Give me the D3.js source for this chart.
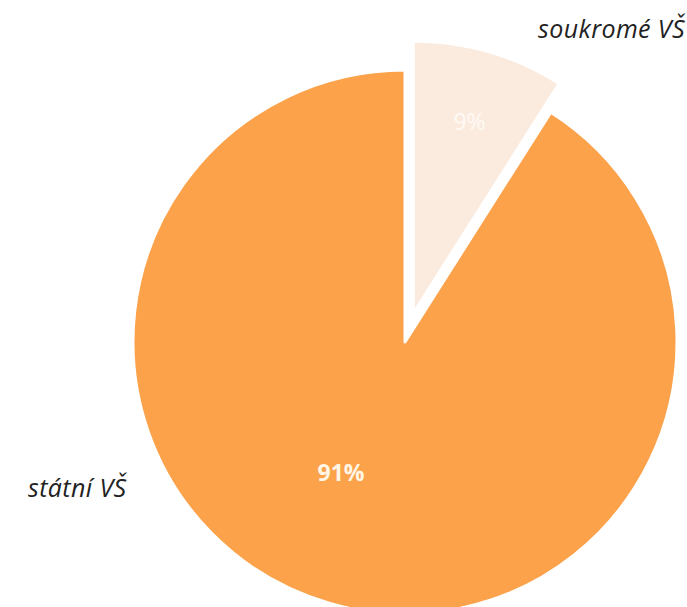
<!DOCTYPE html>
<html>
<head>
<meta charset="utf-8">
<script src="https://cdn.jsdelivr.net/npm/d3@7"></script>
<style>
  html, body { margin: 0; padding: 0; background: #ffffff; }
  svg { display: block; }
</style>
</head>
<body>
<svg id="chart" width="687" height="607"></svg>
<script>
// ---- data ----
const categories = ["soukromé VŠ", "státní VŠ"];
const values = [9, 91];
const valueLabels = ["9%", "91%"];

// ---- layout ----
const W = 687, H = 607;
const cx = 405, cy = 342, R = 272, explode = 30;
const colors = d3.scaleOrdinal().domain(categories).range(["#FBEBDF", "#FBA24B"]);

const svg = d3.select("#chart");
const g = svg.append("g").attr("transform", `translate(${cx},${cy})`);

const pie = d3.pie().sort(null).value(d => d.v);
const data = categories.map((c, i) => ({ c, v: values[i], lab: valueLabels[i], i }));
const arcs = pie(data);
const arc = d3.arc().innerRadius(0).outerRadius(R);

function offset(d) {
  if (d.data.i !== 0) return [0, 0];
  const a = (d.startAngle + d.endAngle) / 2;
  return [Math.sin(a) * explode, -Math.cos(a) * explode];
}

g.selectAll("path.slice")
  .data(arcs)
  .join("path")
  .attr("class", "slice")
  .attr("d", arc)
  .attr("transform", d => { const o = offset(d); return `translate(${o[0]},${o[1]})`; })
  .attr("fill", d => colors(d.data.c))
  .attr("stroke", "#ffffff")
  .attr("stroke-width", 3)
  .attr("stroke-linejoin", "round");

// value labels
const labelArc = d3.arc().innerRadius(R * 0.74).outerRadius(R * 0.74);
g.selectAll("text.val")
  .data(arcs)
  .join("text")
  .attr("class", "val")
  .attr("x", d => {
    if (d.data.i === 0) return labelArc.centroid(d)[0] + offset(d)[0];
    return -64;
  })
  .attr("y", d => {
    if (d.data.i === 0) return labelArc.centroid(d)[1] + offset(d)[1] + 2;
    return 131;
  })
  .attr("dy", "0.35em")
  .attr("text-anchor", "middle")
  .attr("font-family", "'Open Sans', 'Noto Sans', sans-serif")
  .attr("font-size", 23)
  .attr("font-weight", d => d.data.i === 0 ? "normal" : "bold")
  .attr("fill", d => d.data.i === 0 ? "#FFFAF5" : "#FFF6E6")
  .text(d => d.data.lab);

// category labels
svg.append("text")
  .attr("x", 685).attr("y", 38)
  .attr("text-anchor", "end")
  .attr("font-family", "'Open Sans', 'Noto Sans', sans-serif")
  .attr("font-style", "italic")
  .attr("font-size", 25)
  .attr("letter-spacing", 0.4)
  .attr("fill", "#222222")
  .text(categories[0]);

svg.append("text")
  .attr("x", 28).attr("y", 497)
  .attr("text-anchor", "start")
  .attr("font-family", "'Open Sans', 'Noto Sans', sans-serif")
  .attr("font-style", "italic")
  .attr("font-size", 25)
  .attr("letter-spacing", 0.4)
  .attr("fill", "#222222")
  .text(categories[1]);
</script>
</body>
</html>
